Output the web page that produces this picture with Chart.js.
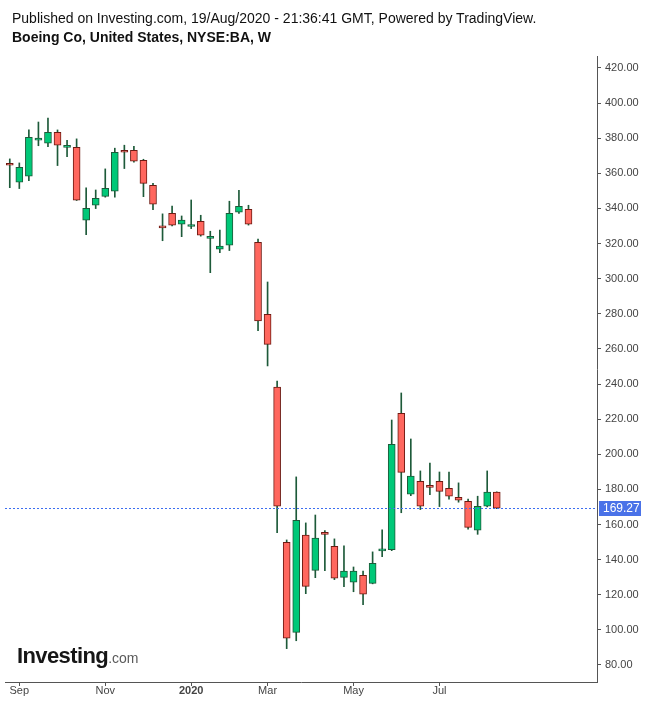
<!DOCTYPE html>
<html>
<head>
<meta charset="utf-8">
<script src="https://cdn.jsdelivr.net/npm/chart.js@4.4.1/dist/chart.umd.min.js"></script>
<style>
  html, body { margin: 0; padding: 0; background: #ffffff; }
  #wrap { position: relative; width: 649px; height: 703px; overflow: hidden; background: #fff; }
  #c { position: absolute; left: 0; top: 0; }
  .hdr { position: absolute; left: 12px; font-family: "Liberation Sans", Arial, sans-serif; font-size: 14px; line-height: 15px; color: #111; white-space: nowrap; }
  #logo { position: absolute; left: 17px; top: 645px; font-family: "Liberation Sans", Arial, sans-serif; line-height: 22px; font-size: 22px; white-space: nowrap; }
  #logo .a { font-weight: bold; color: #161616; letter-spacing: -0.6px; }
  #logo .b { font-size: 14px; color: #5a5a5a; letter-spacing: 0; }
</style>
</head>
<body>
<div id="wrap">
  <canvas id="c" width="649" height="703"></canvas>
  <div class="hdr" style="top:11px;">Published on Investing.com, 19/Aug/2020 - 21:36:41 GMT, Powered by TradingView.</div>
  <div class="hdr" style="top:30px;font-weight:bold;">Boeing Co, United States, NYSE:BA, W</div>
  <div id="logo"><span class="a">Investing</span><span class="b">.com</span></div>
</div>
<script>
// Weekly candles, BA, week of 26 Aug 2019 .. week of 17 Aug 2020
const opens  = [365.7,354.9,358.3,378.8,377.1,383.4,374.8,374.8,333.3,341.8,346.9,349.8,372.5,373.1,367.4,353.2,329.4,337.2,331.0,329.7,332.7,322.9,316.8,319.0,337.8,339.5,320.7,279.7,238.2,149.9,98.6,153.9,133.9,155.6,147.6,129.9,127.1,131.1,126.5,145.0,145.7,223.3,177.2,184.6,181.6,184.6,180.6,175.5,173.2,156.7,170.4,178.4];
const highs  = [368.2,365.9,384.7,389.2,391.5,384.7,378.8,379.6,351.7,350.5,362.5,374.3,376.0,375.4,368.0,354.3,336.9,341.4,335.7,344.8,336.1,327.0,327.6,344.1,350.3,341.8,322.6,298.1,241.7,151.2,187.1,160.9,165.4,156.5,151.8,147.8,135.8,133.4,144.4,156.9,219.5,234.9,208.7,190.5,195.0,189.9,189.9,183.7,174.4,176.1,190.5,178.6];
const lows   = [351.8,351.3,355.8,375.7,375.2,364.4,369.5,344.5,325.1,339.9,346.4,346.4,362.7,366.4,346.7,339.3,321.6,330.0,323.9,328.5,324.2,303.4,314.8,316.0,337.2,330.5,270.4,250.3,155.4,89.3,93.8,120.6,129.7,133.7,128.6,124.6,121.7,114.3,126.2,141.7,145.1,166.7,176.4,168.5,177.0,170.2,174.4,172.7,157.3,154.4,170.0,169.0];
const closes = [364.6,363.4,380.5,380.0,383.4,376.0,375.3,344.7,340.1,345.8,351.5,372.0,372.0,366.9,354.3,342.4,328.9,330.4,333.3,330.0,324.7,323.3,318.5,337.2,341.2,331.0,275.9,262.6,170.4,95.2,162.4,124.8,152.2,154.4,129.4,133.4,133.4,120.3,137.9,145.6,205.7,189.7,187.5,170.4,181.1,178.9,176.1,173.8,158.4,170.4,178.4,169.27];
// x-axis month labels at the first weekly bar of each month
const monthTickIndex = [1, 10, 19, 27, 36, 45];
const monthTickText  = ["Sep", "Nov", "2020", "Mar", "May", "Jul"];
// y-axis ticks
const yTickMin = 80, yTickMax = 420, yTickStep = 20;
const lastPrice = 169.27;

const SLOTS = 62; // 52 weekly bars + empty right margin
const labels = [];
for (let i = 0; i < SLOTS; i++) labels.push(String(i));
const tickMap = {};
monthTickIndex.forEach((idx, k) => { tickMap[idx] = monthTickText[k]; });

const UP = '#00c878', DOWN = '#ff675e', UP_B = '#1d5a39', DOWN_B = '#6e1a12', WICK = '#1d5a39';
const isUp = opens.map((o, i) => closes[i] >= o);
const bodyData = opens.map((o, i) => [o, closes[i]]);
const wickData = lows.map((l, i) => [l, highs[i]]);

const priceLine = {
  id: 'priceLine',
  afterDatasetsDraw(chart) {
    const { ctx, chartArea } = chart;
    const y = Math.round(chart.scales.y.getPixelForValue(lastPrice)) + 0.5;
    ctx.save();
    ctx.strokeStyle = '#3c6ef0';
    ctx.lineWidth = 1;
    ctx.setLineDash([2, 2]);
    ctx.beginPath();
    ctx.moveTo(chartArea.left, y);
    ctx.lineTo(chartArea.right, y);
    ctx.stroke();
    ctx.setLineDash([]);
    ctx.fillStyle = '#4a72e8';
    ctx.fillRect(chartArea.right + 2, y - 7.5, 42, 15);
    ctx.fillStyle = '#ffffff';
    ctx.font = '12px "Liberation Sans", Arial, sans-serif';
    ctx.textBaseline = 'middle';
    ctx.textAlign = 'left';
    ctx.fillText(lastPrice.toFixed(2), chartArea.right + 6, y + 0.5);
    ctx.restore();
  }
};

new Chart(document.getElementById('c'), {
  type: 'bar',
  data: {
    labels: labels,
    datasets: [
      {
        data: bodyData,
        grouped: false,
        barThickness: 7,
        minBarLength: 2,
        borderWidth: 1,
        borderSkipped: false,
        backgroundColor: isUp.map(u => u ? UP : DOWN),
        borderColor: isUp.map(u => u ? UP_B : DOWN_B)
      },
      {
        data: wickData,
        grouped: false,
        barThickness: 1,
        borderWidth: 0,
        backgroundColor: WICK
      }
    ]
  },
  options: {
    responsive: false,
    animation: false,
    devicePixelRatio: 1,
    layout: { padding: { left: 5, top: 56, right: 0, bottom: 0 } },
    plugins: { legend: { display: false }, tooltip: { enabled: false } },
    scales: {
      x: {
        type: 'category',
        offset: true,
        afterFit(scale) { scale.height = 21; },
        border: { display: true, color: '#555555', width: 1 },
        grid: {
          offset: false,
          drawOnChartArea: false,
          drawTicks: true,
          tickLength: 4,
          color: (ctx) => (tickMap[ctx.index] !== undefined ? '#555555' : 'rgba(0,0,0,0)')
        },
        ticks: {
          autoSkip: false,
          maxRotation: 0,
          minRotation: 0,
          padding: -2,
          color: '#444444',
          font: (ctx) => ({ family: '"Liberation Sans", Arial, sans-serif', size: 11, weight: (ctx.tick && ctx.tick.label === '2020') ? 'bold' : 'normal' }),
          callback: (v, i) => (tickMap[i] !== undefined ? tickMap[i] : '')
        }
      },
      y: {
        type: 'linear',
        position: 'right',
        min: 70.3,
        max: 426.8,
        afterFit(scale) { scale.width = 52; },
        border: { display: true, color: '#555555', width: 1 },
        grid: { drawOnChartArea: false, drawTicks: true, tickLength: 4, color: '#555555' },
        ticks: {
          stepSize: yTickStep,
          includeBounds: false,
          padding: 4,
          color: '#444444',
          font: { family: '"Liberation Sans", Arial, sans-serif', size: 11 },
          callback: (v) => (v >= yTickMin && v <= yTickMax ? Number(v).toFixed(2) : '')
        }
      }
    }
  },
  plugins: [priceLine]
});
</script>
</body>
</html>
